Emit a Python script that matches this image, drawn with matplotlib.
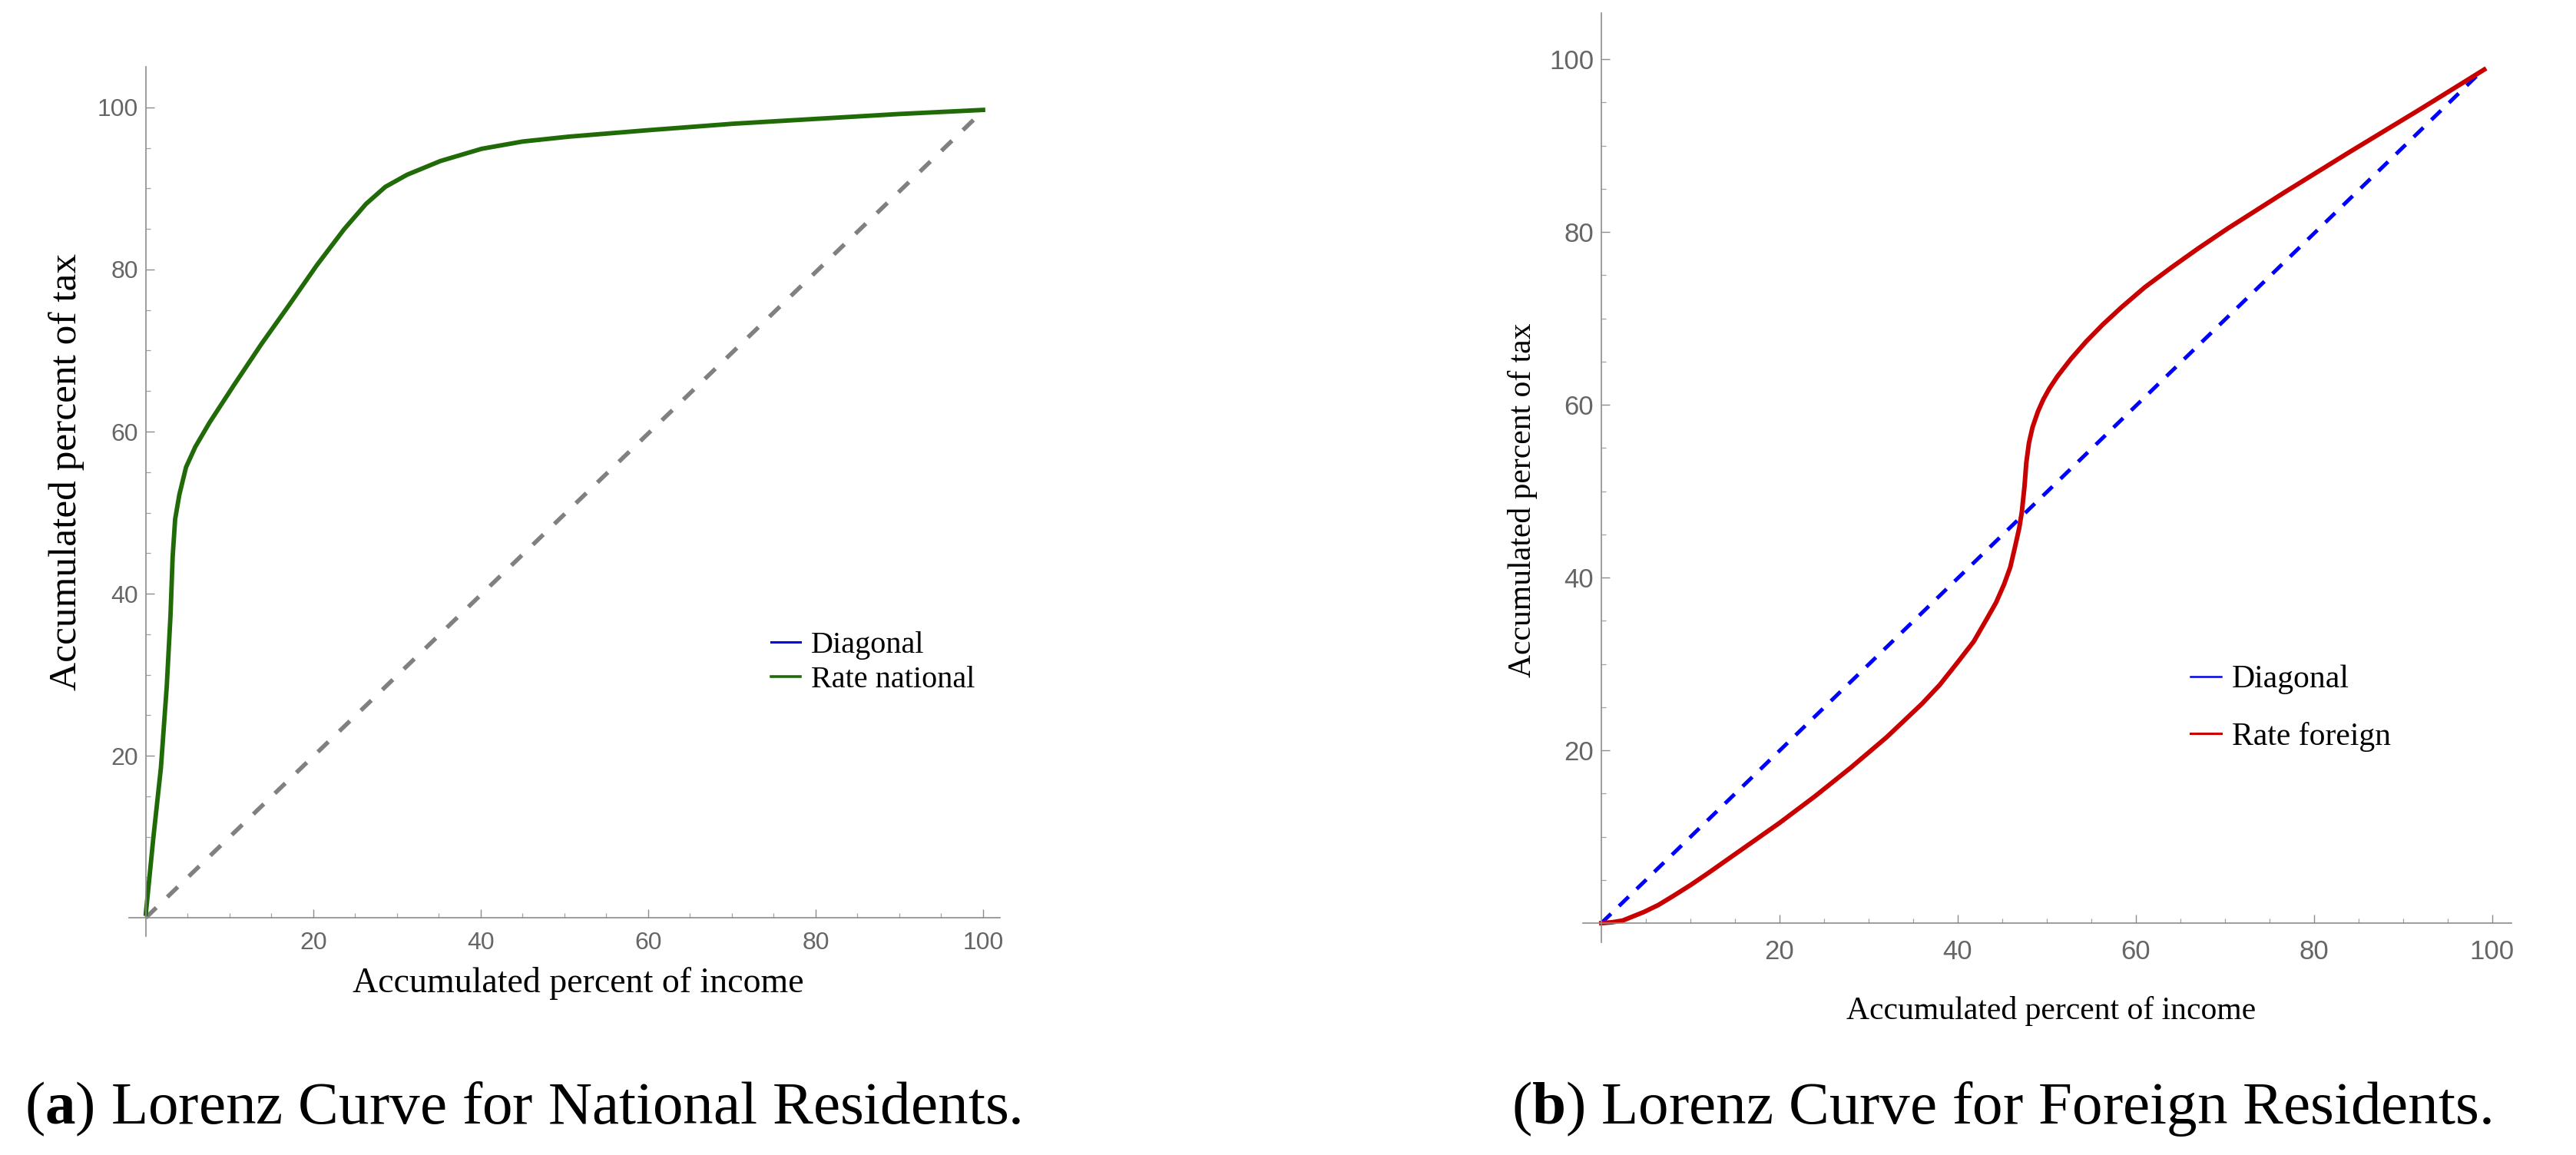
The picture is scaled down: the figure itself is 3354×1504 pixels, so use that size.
import matplotlib
matplotlib.use("Agg")
import matplotlib.pyplot as plt
from matplotlib.lines import Line2D

plt.rcParams['mathtext.fontset'] = 'custom'
plt.rcParams['mathtext.rm'] = 'Liberation Serif'
plt.rcParams['mathtext.bf'] = 'Liberation Serif:bold'

######################### DATA #########################
# national residents
national_x = [0, 0.9, 1.8, 2.5, 2.95, 3.2, 3.5, 4.0, 4.8, 5.9, 7.6, 10.5, 13.8, 17.1, 20.4,
              23.7, 26.3, 28.6, 31.2, 35.2, 40.1, 45.0, 50.5, 60, 70.2, 80.1, 90, 100]
national_y = [0.5, 9.9, 18.5, 28.6, 37.4, 44.5, 49.2, 52.2, 55.6, 58.1, 61.1, 65.7, 70.8, 75.6, 80.5,
              85.0, 88.1, 90.2, 91.7, 93.4, 94.9, 95.8, 96.4, 97.2, 98.0, 98.6, 99.2, 99.7]
national_diag = [0, 100]
national_diag_y = [0, 99.6]

# foreign residents
foreign_x = [0, 1.2, 2.4, 3.6, 4.8, 6.4, 8, 10, 12, 16, 20, 24, 28, 32, 36, 38, 40, 41.8, 43.2,
             44.3, 45.2, 45.9, 46.4, 46.9, 47.2, 47.5, 47.7, 48.0, 48.4, 49.0, 49.6, 50.3, 51.2,
             52.7, 54.4, 56.3, 58.4, 61, 64, 67, 70.3, 76.7, 83.9, 91.9, 99.1]
foreign_y = [0, 0.1, 0.3, 0.8, 1.3, 2.1, 3.1, 4.4, 5.8, 8.7, 11.6, 14.7, 18.0, 21.5, 25.4, 27.6,
             30.2, 32.6, 35.1, 37.1, 39.2, 41.2, 43.4, 45.7, 47.6, 50.6, 53.3, 55.6, 57.4, 59.2,
             60.6, 61.9, 63.3, 65.3, 67.3, 69.3, 71.3, 73.6, 75.9, 78.1, 80.4, 84.6, 89.2, 94.2, 98.8]
foreign_diag = [0, 99.1]
foreign_diag_y = [0, 98.9]

major_ticks = [20, 40, 60, 80, 100]
minor_ticks = [5, 10, 15, 25, 30, 35, 45, 50, 55, 65, 70, 75, 85, 90, 95]

W, H = 3355, 1504
fig = plt.figure(figsize=(W / 100, H / 100), dpi=100)


def px(x, y):
    # pixel position in the picture -> figure fraction
    return x / W, 1 - y / H


def style_axes(ax, xlim, ylim, labelsize, xpad, ypad):
    ax.set_xlim(*xlim)
    ax.set_ylim(*ylim)
    for s in ['top', 'right']:
        ax.spines[s].set_visible(False)
    for s in ['left', 'bottom']:
        ax.spines[s].set_position(('data', 0))
        ax.spines[s].set_color('#8c8c8c')
        ax.spines[s].set_linewidth(1.2)
    ax.set_xticks(major_ticks)
    ax.set_yticks(major_ticks)
    ax.set_xticks(minor_ticks, minor=True)
    ax.set_yticks(minor_ticks, minor=True)
    ax.tick_params(which='major', direction='in', length=8, width=1, color='#8c8c8c',
                   labelsize=labelsize, labelcolor='#666666')
    ax.tick_params(which='minor', direction='in', length=4.5, width=0.9, color='#a0a0a0')
    ax.tick_params(axis='x', which='major', pad=xpad)
    ax.tick_params(axis='y', which='major', pad=ypad)
    for lab in ax.get_xticklabels() + ax.get_yticklabels():
        lab.set_fontfamily('Liberation Sans')
    ax.patch.set_alpha(0)


serif = 'Liberation Serif'

####################### LEFT PANEL ########################
ax1 = fig.add_axes([0.0501, 0.1893, 0.3379, 0.7527])
style_axes(ax1, (-2, 102), (-2.3, 105), 23, 13, 7)
ax1.plot(national_diag, national_diag_y, color='#808080', lw=4, dashes=(3.4, 3.6),
         solid_capstyle='butt')
ax1.plot(national_x, national_y, color='#206a08', lw=4.2, solid_joinstyle='round')

handles1 = [Line2D([], [], color='#0000ee', lw=2.2), Line2D([], [], color='#206a08', lw=2.6)]
ax1.legend(handles1, ['Diagonal', 'Rate national'], loc='upper left',
           bbox_to_anchor=px(1004, 822), bbox_transform=fig.transFigure, frameon=False,
           prop={'family': serif, 'size': 29}, handlelength=0.95, handletextpad=0.35,
           labelspacing=0.2, borderpad=0, borderaxespad=0)

fig.text(*px(753, 1281), 'Accumulated percent of income', family=serif, size=33,
         ha='center', va='center')
fig.text(*px(87, 614), 'Accumulated percent of tax', family=serif, size=37,
         rotation=90, ha='center', va='center')

####################### RIGHT PANEL ########################
ax2 = fig.add_axes([0.6142, 0.1843, 0.3606, 0.8041])
style_axes(ax2, (-2.1, 102.2), (-2.2, 105.3), 25, 15, 7)
ax2.plot(foreign_diag, foreign_diag_y, color='#0000ff', lw=3.6, dashes=(3.5, 2.9),
         solid_capstyle='butt')
ax2.plot(foreign_x, foreign_y, color='#c80000', lw=4.3, solid_joinstyle='round')

handles2 = [Line2D([], [], color='#0000ee', lw=1.8), Line2D([], [], color='#c80000', lw=2.2)]
ax2.legend(handles2, ['Diagonal', 'Rate foreign'], loc='upper left',
           bbox_to_anchor=px(2852, 866), bbox_transform=fig.transFigure, frameon=False,
           prop={'family': serif, 'size': 30}, handlelength=0.95, handletextpad=0.35,
           labelspacing=0.85, borderpad=0, borderaxespad=0)

fig.text(*px(2671, 1317), 'Accumulated percent of income', family=serif, size=30,
         ha='center', va='center')
fig.text(*px(1983, 651), 'Accumulated percent of tax', family=serif, size=30,
         rotation=90, ha='center', va='center')

####################### CAPTIONS ########################
fig.text(*px(32, 1463), r'($\mathbf{a}$) Lorenz Curve for National Residents.',
         family=serif, size=57, ha='left', va='baseline')
fig.text(*px(1968, 1463), r'($\mathbf{b}$) Lorenz Curve for Foreign Residents.',
         family=serif, size=57, ha='left', va='baseline')

fig.savefig('out.png', dpi=100, facecolor='white')
